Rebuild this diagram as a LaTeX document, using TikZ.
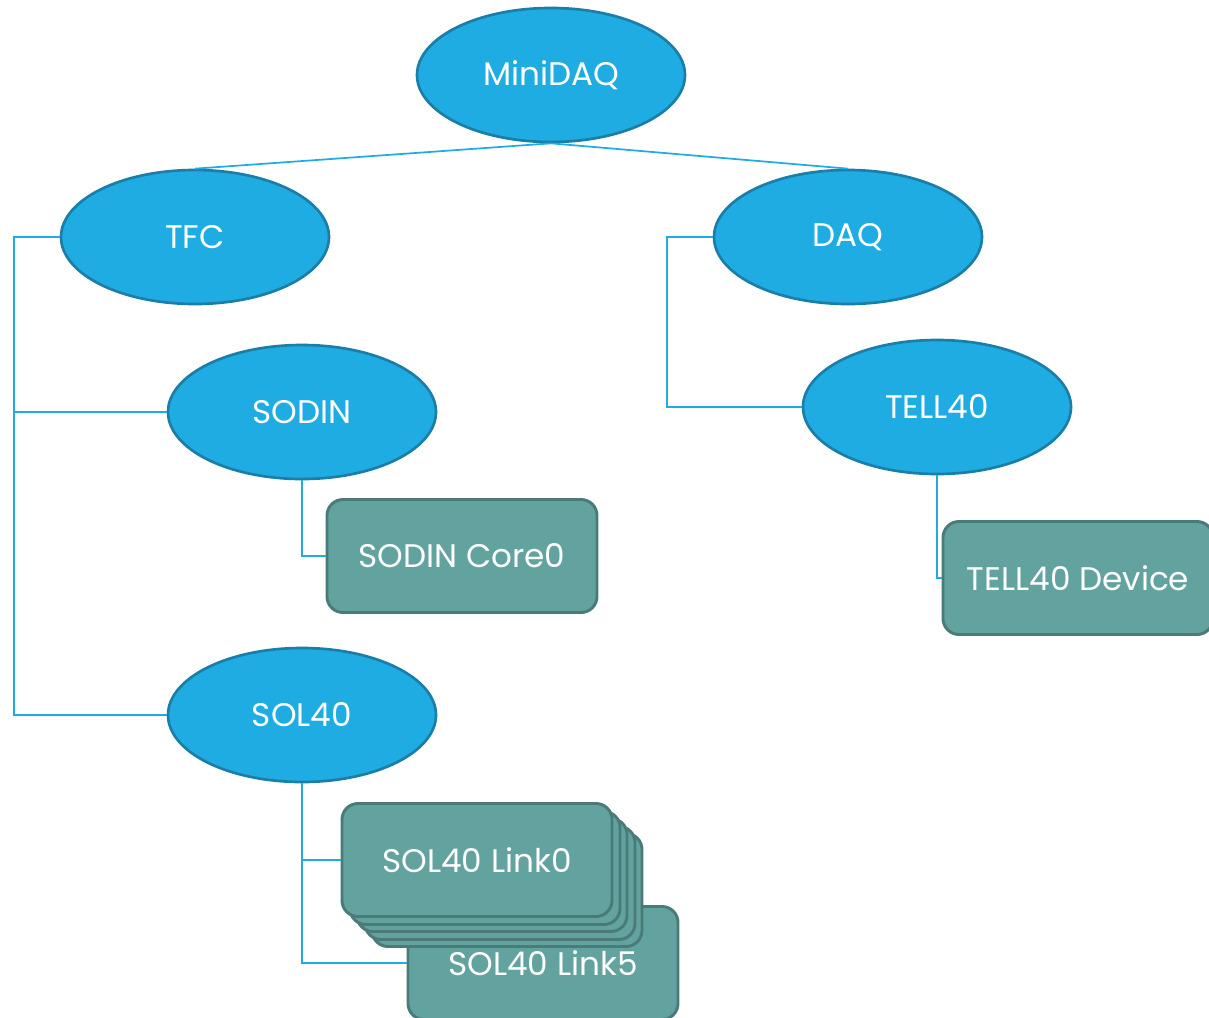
\documentclass[tikz,border=0pt]{standalone}
\usepackage{fontspec}
\setmainfont{Poppins}
\usetikzlibrary{shapes.geometric}
\definecolor{ellfill}{HTML}{1EACE3}
\definecolor{elldraw}{HTML}{1A7EA8}
\definecolor{boxfill}{HTML}{62A39F}
\definecolor{boxdraw}{HTML}{4A7B78}
\definecolor{wire}{HTML}{1EACE3}
\tikzset{
  ell/.style={ellipse, fill=ellfill, draw=elldraw, line width=2pt, minimum width=201pt, minimum height=100.5pt, inner sep=0pt, text=white, font=\fontsize{24.5}{26}\selectfont},
  tbox/.style={rectangle, rounded corners=12pt, fill=boxfill, draw=boxdraw, line width=2.2pt, minimum width=202.5pt, minimum height=84.75pt, inner sep=0pt, text=white, font=\fontsize{24.5}{26}\selectfont},
  wirestyle/.style={draw=wire, line width=1.3pt}
}
\begin{document}
\begin{tikzpicture}[x=0.75pt,y=-0.75pt]
\useasboundingbox (0,0) rectangle (1209,1017);
\clip (0,0) rectangle (1209,1017);
\coordinate (tfcL) at (14,237);
\coordinate (sodinJ) at (14,412);
\coordinate (sol40J) at (14,715);
\coordinate (daqL) at (667,237);
\coordinate (tellJ) at (667,407);
\coordinate (coreJ) at (302,556);
\coordinate (devJ) at (937,578);
\coordinate (l0J) at (302,860);
\coordinate (l5J) at (302,963);

\node[ell] (mini) at (551,75) {MiniDAQ};
\node[ell] (tfc) at (195,237) {TFC};
\node[ell] (daq) at (848,237) {DAQ};
\node[ell] (sodin) at (302,412) {SODIN};
\node[ell] (tell) at (937,407) {TELL40};
\node[ell] (sol) at (302,715) {SOL40};

\node[tbox] (core) at (462,556) {SODIN Core0};
\node[tbox] (dev) at (1078,578) {TELL40 Device};

\node[tbox] (l5) at (543,963) {SOL40 Link5};
\node[tbox] (s4) at (507,890) {};
\node[tbox] (s3) at (500,883) {};
\node[tbox] (s2) at (492,875) {};
\node[tbox] (s1) at (485,868) {};
\node[tbox] (l0) at (477,860) {SOL40 Link0};

\draw[wirestyle] (mini.south) -- (tfc.north);
\draw[wirestyle] (mini.south) -- (daq.north);
\draw[wirestyle] (tfc.west) -- (tfcL) -- (sol40J) -- (sol.west);
\draw[wirestyle] (sodinJ) -- (sodin.west);
\draw[wirestyle] (daq.west) -- (daqL) -- (tellJ) -- (tell.west);
\draw[wirestyle] (sodin.south) -- (coreJ) -- (core.west);
\draw[wirestyle] (tell.south) -- (devJ) -- (dev.west);
\draw[wirestyle] (sol.south) -- (l5J) -- (l5.west);
\draw[wirestyle] (l0J) -- (l0.west);
\end{tikzpicture}
\end{document}
